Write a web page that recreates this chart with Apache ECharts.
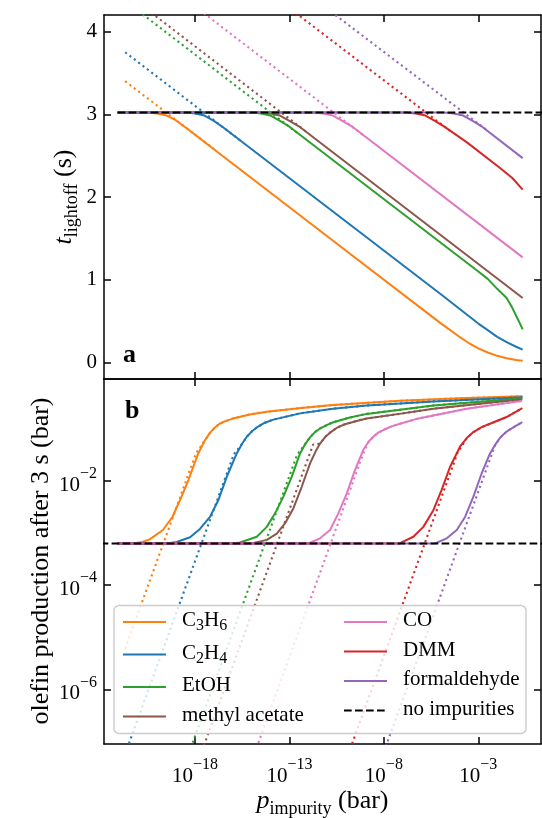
<!DOCTYPE html>
<html>
<head>
<meta charset="utf-8">
<script src="https://cdn.jsdelivr.net/npm/echarts@6/dist/echarts.min.js"></script>
<style>
html, body { margin: 0; padding: 0; background: #fff; }
#chart { width: 542px; height: 818px; }
</style>
</head>
<body>
<div id="chart"></div>
<script>
// x values are log10(p_impurity / bar), olefin values are log10(olefin / bar)
var xTicks = [-18, -13, -8, -3];
var lightoffTicks = [0, 1, 2, 3, 4];
var olefinTicks = [-6, -4, -2];

var noImpurityLightoff = [[-22.1, 3.02], [0.4, 3.02]];
var noImpurityOlefin = [[-23, -3.2], [0.4, -3.2]];

// panel a: light-off time (s)
var c3h6Lightoff = [[-22.1, 3.02], [-20.5, 3.02], [-20, 3.01], [-19.5, 2.985], [-19, 2.925], [-18.5, 2.84], [-10, 1.35], [-5, 0.475], [-4, 0.31], [-3.5, 0.235], [-3, 0.17], [-2.5, 0.12], [-2, 0.08], [-1.5, 0.05], [-1, 0.03], [-0.65, 0.02]];
var c2h4Lightoff = [[-22.1, 3.02], [-18.5, 3.02], [-18, 3.01], [-17.5, 2.985], [-17, 2.92], [-16.5, 2.84], [-5, 0.827], [-4, 0.65], [-3, 0.47], [-2.5, 0.39], [-2, 0.31], [-1.5, 0.245], [-1, 0.19], [-0.65, 0.155]];
var etohLightoff = [[-22.1, 3.02], [-15, 3.02], [-14.5, 3.01], [-14, 2.985], [-13.5, 2.92], [-13, 2.85], [-3, 1.10], [-2.5, 1.01], [-2, 0.89], [-1.5, 0.78], [-1.2, 0.66], [-0.9, 0.52], [-0.65, 0.40]];
var meacLightoff = [[-22.1, 3.02], [-14.5, 3.02], [-14, 3.01], [-13.5, 2.985], [-13, 2.92], [-12.5, 2.855], [-0.65, 0.78]];
var coLightoff = [[-22.1, 3.02], [-11.7, 3.02], [-11.2, 3.01], [-10.7, 2.985], [-10.2, 2.92], [-9.7, 2.855], [-0.65, 1.27]];
var dmmLightoff = [[-22.1, 3.02], [-6.8, 3.02], [-6.3, 3.01], [-5.8, 2.985], [-5.3, 2.92], [-4.8, 2.85], [-3.6, 2.66], [-1.85, 2.35], [-1.2, 2.23], [-0.65, 2.09]];
var formLightoff = [[-22.1, 3.02], [-4.8, 3.02], [-4.3, 3.01], [-3.8, 2.985], [-3.3, 2.92], [-2.8, 2.85], [-0.65, 2.47]];

var c3h6LightoffAsym = [[-21.7, 3.40], [-17, 2.58]];
var c2h4LightoffAsym = [[-21.7, 3.75], [-15.5, 2.665]];
var etohLightoffAsym = [[-21.7, 4.37], [-12.5, 2.76]];
var meacLightoffAsym = [[-21.7, 4.47], [-12, 2.77]];
var coLightoffAsym = [[-21.7, 4.95], [-9, 2.73]];
var dmmLightoffAsym = [[-21.7, 5.80], [-4.5, 2.80]];
var formLightoffAsym = [[-21.7, 6.13], [-2.5, 2.80]];

// panel b: olefin production after 3 s
var c3h6Olefin = [[-22.1, -3.2], [-21.3, -3.2], [-20.8, -3.17], [-20.4, -3.12], [-19.7, -2.94], [-19.2, -2.69], [-18.8, -2.37], [-18.35, -1.98], [-17.83, -1.47], [-17.5, -1.23], [-17.2, -1.07], [-16.95, -0.97], [-16.7, -0.9], [-16.4, -0.85], [-16, -0.8], [-15.1, -0.72], [-14.2, -0.67], [-12.5, -0.6], [-10.7, -0.54], [-7.15, -0.46], [-4, -0.41], [-0.67, -0.37]];
var c2h4Olefin = [[-22.1, -3.2], [-19.5, -3.2], [-18.97, -3.17], [-18.26, -3.08], [-17.74, -2.92], [-17.21, -2.69], [-16.77, -2.37], [-16.32, -1.92], [-15.79, -1.47], [-15.5, -1.28], [-15.26, -1.15], [-15, -1.05], [-14.73, -0.97], [-14.3, -0.88], [-13.85, -0.82], [-12.44, -0.7], [-10.7, -0.61], [-8.91, -0.55], [-5.38, -0.47], [-0.67, -0.39]];
var etohOlefin = [[-22.1, -3.2], [-16, -3.2], [-15.62, -3.18], [-14.73, -3.07], [-14.2, -2.88], [-13.76, -2.62], [-13.32, -2.30], [-12.88, -1.92], [-12.44, -1.47], [-12.15, -1.28], [-11.91, -1.16], [-11.65, -1.06], [-11.38, -0.99], [-11, -0.92], [-10.68, -0.87], [-9.8, -0.78], [-8.91, -0.71], [-5.38, -0.55], [-0.67, -0.41]];
var meacOlefin = [[-22.1, -3.2], [-15, -3.2], [-14.2, -3.13], [-13.67, -3.01], [-13.23, -2.81], [-12.8, -2.53], [-12.35, -2.11], [-11.91, -1.66], [-11.6, -1.42], [-11.38, -1.28], [-11.1, -1.15], [-10.85, -1.07], [-10.5, -0.98], [-10.15, -0.92], [-9.5, -0.85], [-8.91, -0.8], [-7, -0.7], [-5.38, -0.61], [-0.67, -0.43]];
var coOlefin = [[-22.1, -3.2], [-12, -3.2], [-11.38, -3.10], [-10.85, -2.94], [-10.41, -2.62], [-9.97, -2.24], [-9.53, -1.79], [-9.09, -1.40], [-8.8, -1.24], [-8.56, -1.15], [-8.3, -1.07], [-8.03, -1.02], [-7.6, -0.95], [-7.15, -0.9], [-6.3, -0.81], [-5.38, -0.74], [-3.61, -0.61], [-0.67, -0.46]];
var dmmOlefin = [[-22.1, -3.2], [-7.2, -3.2], [-6.44, -3.07], [-5.91, -2.88], [-5.38, -2.56], [-4.94, -2.17], [-4.5, -1.73], [-3.97, -1.34], [-3.6, -1.17], [-3.26, -1.06], [-2.8, -0.96], [-2.38, -0.9], [-1.5, -0.77], [-0.67, -0.60]];
var formOlefin = [[-22.1, -3.2], [-5.3, -3.2], [-4.67, -3.10], [-4.14, -2.94], [-3.70, -2.69], [-3.26, -2.30], [-2.82, -1.85], [-2.38, -1.47], [-2.1, -1.3], [-1.85, -1.17], [-1.5, -1.05], [-1.15, -0.97], [-0.67, -0.87]];

var c3h6OlefinAsym = [[-21.7, -5.22], [-17.95, -1.47], [-17.5, -1.23], [-17.2, -1.07], [-16.95, -0.97], [-16.7, -0.9], [-16.4, -0.85], [-16, -0.8], [-15.1, -0.72], [-14.2, -0.67], [-12.5, -0.6], [-10.7, -0.54], [-7.15, -0.46], [-4, -0.41], [-0.67, -0.37]];
var c2h4OlefinAsym = [[-21.7, -7.24], [-15.95, -1.49], [-15.5, -1.28], [-15.26, -1.15], [-15, -1.05], [-14.73, -0.97], [-14.3, -0.88], [-13.85, -0.82], [-12.44, -0.7], [-10.7, -0.61], [-8.91, -0.55], [-5.38, -0.47], [-0.67, -0.39]];
var etohOlefinAsym = [[-21.7, -10.6], [-12.6, -1.5], [-12.15, -1.28], [-11.91, -1.16], [-11.65, -1.06], [-11.38, -0.99], [-11, -0.92], [-10.68, -0.87], [-9.8, -0.78], [-8.91, -0.71], [-5.38, -0.55], [-0.67, -0.41]];
var meacOlefinAsym = [[-21.7, -11.25], [-11.75, -1.30], [-11.38, -1.28], [-11.1, -1.15], [-10.85, -1.07], [-10.5, -0.98], [-10.15, -0.92], [-9.5, -0.85], [-8.91, -0.8], [-7, -0.7], [-5.38, -0.61], [-0.67, -0.43]];
var coOlefinAsym = [[-21.7, -14.08], [-9.1, -1.48], [-8.8, -1.24], [-8.56, -1.15], [-8.3, -1.07], [-8.03, -1.02], [-7.6, -0.95], [-7.15, -0.9], [-6.3, -0.81], [-5.38, -0.74], [-3.61, -0.61], [-0.67, -0.46]];
var dmmOlefinAsym = [[-21.7, -19.06], [-4.1, -1.46], [-3.6, -1.17], [-3.26, -1.06], [-2.8, -0.96], [-2.38, -0.9], [-1.5, -0.77], [-0.67, -0.60]];
var formOlefinAsym = [[-21.7, -20.9], [-2.3, -1.5], [-2.1, -1.3], [-1.85, -1.17], [-1.5, -1.05], [-1.15, -0.97], [-0.67, -0.87]];

var names = ['C3H6', 'C2H4', 'EtOH', 'methyl acetate', 'CO', 'DMM', 'formaldehyde'];
var colors = ['#ff7f0e', '#1f77b4', '#2ca02c', '#8c564b', '#e377c2', '#d62728', '#9467bd'];
var lightoffData = [c3h6Lightoff, c2h4Lightoff, etohLightoff, meacLightoff, coLightoff, dmmLightoff, formLightoff];
var lightoffAsym = [c3h6LightoffAsym, c2h4LightoffAsym, etohLightoffAsym, meacLightoffAsym, coLightoffAsym, dmmLightoffAsym, formLightoffAsym];
var olefinData = [c3h6Olefin, c2h4Olefin, etohOlefin, meacOlefin, coOlefin, dmmOlefin, formOlefin];
var olefinAsym = [c3h6OlefinAsym, c2h4OlefinAsym, etohOlefinAsym, meacOlefinAsym, coOlefinAsym, dmmOlefinAsym, formOlefinAsym];

var serif = '"Liberation Serif", "Times New Roman", serif';

var chart = echarts.init(document.getElementById('chart'));

function powerLabel(value) {
    return '{b|10}{s|\u2212' + Math.abs(value) + '}';
}

var powerRich = {
    b: {fontFamily: serif, fontSize: 21, lineHeight: 30, verticalAlign: 'bottom', color: '#000'},
    s: {fontFamily: serif, fontSize: 16, lineHeight: 16, verticalAlign: 'top', color: '#000'}
};

function makeX(gridIndex, position, showLabels) {
    return {
        type: 'value',
        gridIndex: gridIndex,
        position: position,
        min: -22.82,
        max: 0.32,
        axisLine: {show: true, onZero: false, lineStyle: {color: '#000', width: 1.5}},
        axisTick: {show: true, inside: true, length: 7, lineStyle: {color: '#000', width: 1.5}, customValues: xTicks},
        axisLabel: {show: showLabels, customValues: xTicks, formatter: powerLabel, margin: 13, rich: powerRich},
        splitLine: {show: false}
    };
}

function makeY(gridIndex, position, min, max, ticks, labels) {
    return {
        type: 'value',
        gridIndex: gridIndex,
        position: position,
        min: min,
        max: max,
        axisLine: {show: true, onZero: false, lineStyle: {color: '#000', width: 1.5}},
        axisTick: {show: true, inside: true, length: 7, lineStyle: {color: '#000', width: 1.5}, customValues: ticks},
        axisLabel: labels ? Object.assign({show: true, customValues: ticks, margin: 7, color: '#000',
            fontFamily: serif, fontSize: 21}, labels) : {show: false},
        splitLine: {show: false}
    };
}

function curve(name, xi, data, color, dotted, z) {
    return {
        name: name, type: 'line', xAxisIndex: xi, yAxisIndex: xi, data: data,
        showSymbol: false, symbol: 'none',
        lineStyle: dotted ? {color: color, width: 2.1, type: [2.1, 3.4]} : {color: color, width: 2},
        itemStyle: {color: color}, z: z
    };
}

var series = [];
for (var i = 0; i < names.length; i++) {
    series.push(curve(names[i], 0, lightoffData[i], colors[i], false, 2));
    series.push(curve(names[i] + ' limit', 0, lightoffAsym[i], colors[i], true, 3));
    series.push(curve(names[i], 2, olefinData[i], colors[i], false, 2));
    series.push(curve(names[i] + ' limit', 2, olefinAsym[i], colors[i], true, 3));
}
series.push({
    name: 'no impurities', type: 'line', xAxisIndex: 0, yAxisIndex: 0, data: noImpurityLightoff,
    showSymbol: false, symbol: 'none', lineStyle: {color: '#000', width: 2, type: [7.7, 3.3]}, itemStyle: {color: '#000'}, z: 4
});
series.push({
    name: 'no impurities', type: 'line', xAxisIndex: 2, yAxisIndex: 2, data: noImpurityOlefin,
    showSymbol: false, symbol: 'none', lineStyle: {color: '#000', width: 2, type: [7.7, 3.3]}, itemStyle: {color: '#000'}, z: 4
});

var legendText = {
    'C3H6': '{n|C}{sub|3}{n|H}{sub|6}',
    'C2H4': '{n|C}{sub|2}{n|H}{sub|4}'
};

function legendFormatter(name) {
    return legendText[name] || '{n|' + name + '}';
}

var legendStyle = {
    padding: [0, 0, 0, 11],
    rich: {
        n: {fontFamily: serif, fontSize: 21, lineHeight: 24, verticalAlign: 'top', color: '#000'},
        sub: {fontFamily: serif, fontSize: 16, lineHeight: 19, verticalAlign: 'bottom', color: '#000'}
    }
};

function makeLegend(left, data) {
    return {
        orient: 'vertical', left: left, top: 610, itemWidth: 43, itemHeight: 14, itemGap: 8.5,
        padding: 0, z: 12, selectedMode: false, data: data,
        itemStyle: {opacity: 0, color: 'rgba(0,0,0,0)', borderWidth: 0},
        formatter: legendFormatter, textStyle: legendStyle
    };
}

var titleRich = {
    i: {fontFamily: serif, fontStyle: 'italic', fontSize: 26, lineHeight: 30, verticalAlign: 'top', fill: '#000', color: '#000'},
    sub: {fontFamily: serif, fontSize: 18, lineHeight: 18, verticalAlign: 'bottom', fill: '#000', color: '#000'},
    n: {fontFamily: serif, fontSize: 26, lineHeight: 30, verticalAlign: 'top', fill: '#000', color: '#000'}
};

var option = {
    animation: false,
    backgroundColor: '#fff',
    grid: [
        {left: 104, top: 15, width: 437, height: 364},
        {left: 104, top: 379, width: 437, height: 365}
    ],
    xAxis: [makeX(0, 'bottom', false), makeX(0, 'top', false), makeX(1, 'bottom', true), makeX(1, 'top', false)],
    yAxis: [
        makeY(0, 'left', -0.2, 4.2, lightoffTicks, {}),
        makeY(0, 'right', -0.2, 4.2, lightoffTicks, null),
        makeY(1, 'left', -7.05, -0.04, olefinTicks, {formatter: powerLabel, rich: powerRich}),
        makeY(1, 'right', -7.05, -0.04, olefinTicks, null)
    ],
    legend: [
        makeLegend(122, ['C3H6', 'C2H4', 'EtOH', 'methyl acetate']),
        makeLegend(343, ['CO', 'DMM', 'formaldehyde', 'no impurities'])
    ],
    graphic: [
        {type: 'rect', z: 10, shape: {x: 114, y: 605.5, width: 412, height: 128, r: 5},
            style: {fill: 'rgba(255,255,255,0.8)', stroke: '#cccccc', lineWidth: 1.4}},
        {type: 'text', z: 11, x: 123, y: 355,
            style: {text: 'a', font: 'bold 26px ' + serif, fill: '#000', textAlign: 'left', textVerticalAlign: 'middle', align: 'left', verticalAlign: 'middle'}},
        {type: 'text', z: 11, x: 125, y: 411,
            style: {text: 'b', font: 'bold 26px ' + serif, fill: '#000', textAlign: 'left', textVerticalAlign: 'middle', align: 'left', verticalAlign: 'middle'}},
        {type: 'text', z: 11, x: 66, y: 197, rotation: Math.PI / 2,
            style: {text: '{i|t}{sub|lightoff}{n| (s)}', rich: titleRich, fill: '#000',
                textAlign: 'center', textVerticalAlign: 'middle', align: 'center', verticalAlign: 'middle'}},
        {type: 'text', z: 11, x: 41, y: 561, rotation: Math.PI / 2,
            style: {text: 'olefin production after 3 s (bar)', font: '26px ' + serif, fill: '#000',
                textAlign: 'center', textVerticalAlign: 'middle', align: 'center', verticalAlign: 'middle'}},
        {type: 'text', z: 11, x: 322.5, y: 803,
            style: {text: '{i|p}{sub|impurity}{n| (bar)}', rich: titleRich, fill: '#000',
                textAlign: 'center', textVerticalAlign: 'middle', align: 'center', verticalAlign: 'middle'}}
    ],
    series: series
};

chart.setOption(option);
</script>
</body>
</html>
